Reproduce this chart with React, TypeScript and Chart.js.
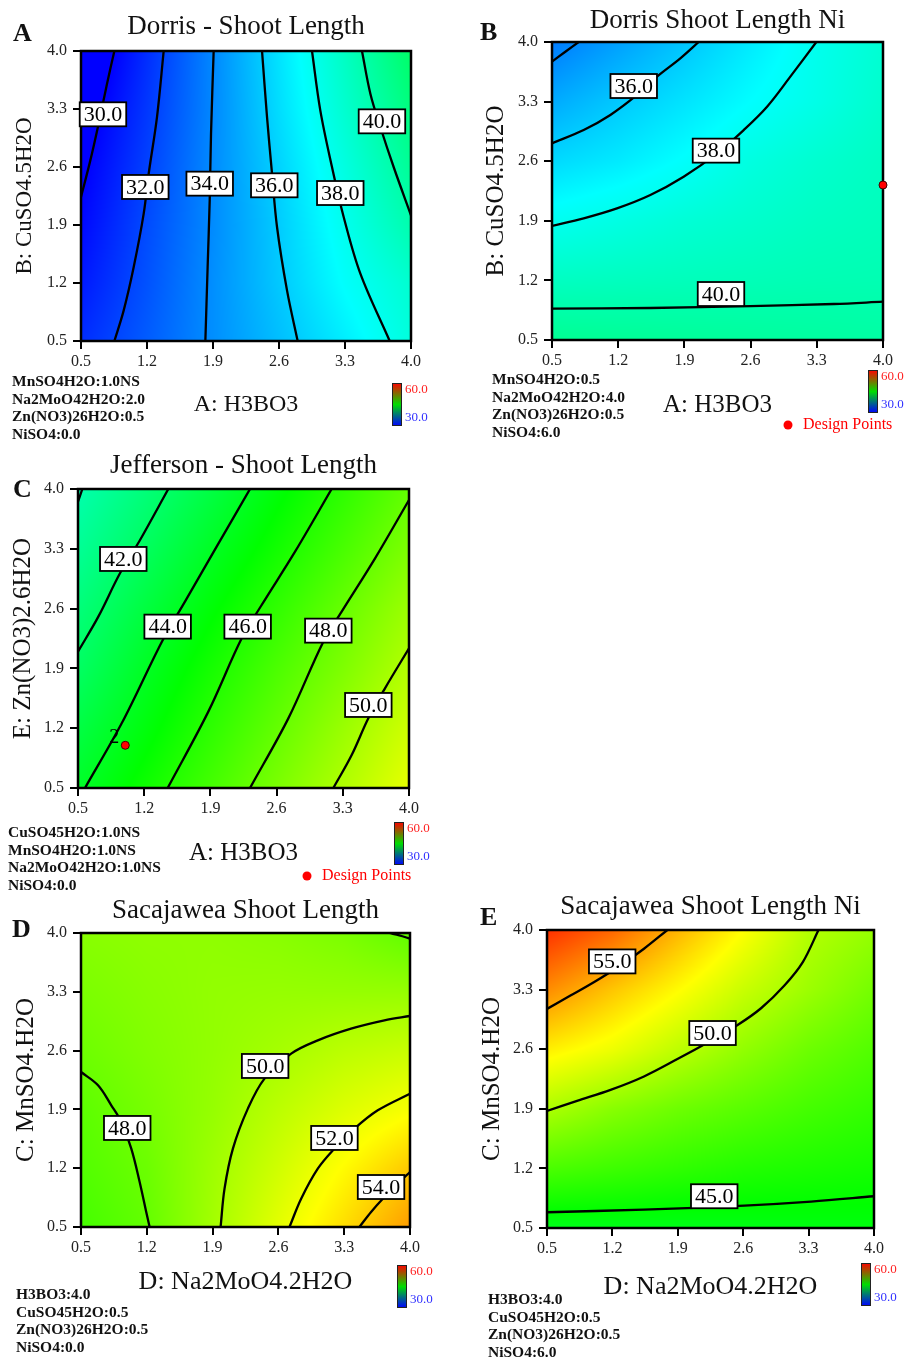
import React, { useEffect, useRef } from "react";
import { Chart, registerables } from "chart.js";
Chart.register(...registerables);

const SERIF = "'Liberation Serif', 'Times New Roman', serif";

// ---------- shared axis / colour data ----------
const AXIS_TICKS = [0.5, 1.2, 1.9, 2.6, 3.3, 4.0];
const AXIS_MIN = 0.5;
const AXIS_MAX = 4.0;
const COLOR_MIN = 30;
const COLOR_MAX = 60;
const COLORBAR_LABELS = ["60.0", "30.0"];
const LEGEND_TEXT = "Design Points";

// ---------- Panel A : Dorris - Shoot Length ----------
// rows: y = 0.5 .. 4.0, columns: x = 0.5 .. 4.0
const A_GRID = [
  [31.3, 32.7, 34.2, 35.6, 37.0, 38.5],
  [30.7, 32.4, 34.2, 35.9, 37.6, 38.9],
  [30.2, 32.2, 34.1, 36.0, 38.0, 39.9],
  [29.8, 31.9, 34.1, 36.2, 38.4, 40.6],
  [29.3, 31.6, 34.0, 36.5, 38.9, 41.3],
  [28.6, 31.3, 34.0, 36.7, 39.3, 42.0],
];
const A_C30 = [[0.854, 4.0], [0.776, 3.606], [0.687, 3.123], [0.599, 2.68], [0.5, 2.238]];
const A_C32 = [[1.377, 4.0], [1.306, 3.203], [1.218, 2.52], [1.165, 2.037], [1.059, 1.393], [0.953, 0.87], [0.854, 0.5]];
const A_C34 = [[1.907, 4.0], [1.879, 3.002], [1.865, 2.198], [1.843, 1.393], [1.819, 0.5]];
const A_C36 = [[2.42, 4.0], [2.473, 3.203], [2.526, 2.52], [2.579, 1.876], [2.685, 1.111], [2.798, 0.5]];
const A_C38 = [[2.95, 4.0], [3.038, 3.284], [3.162, 2.6], [3.286, 1.997], [3.463, 1.313], [3.774, 0.5]];
const A_C40 = [[3.48, 4.0], [3.569, 3.485], [3.675, 3.083], [3.816, 2.6], [4.0, 2.017]];
const A_LABELS: [string, number, number][] = [
  ["30.0", 0.733, 3.236], ["32.0", 1.182, 2.359], ["34.0", 1.865, 2.399],
  ["36.0", 2.55, 2.379], ["38.0", 3.25, 2.286], ["40.0", 3.692, 3.151],
];
const A_FACTORS = ["MnSO4H2O:1.0NS", "Na2MoO42H2O:2.0", "Zn(NO3)26H2O:0.5", "NiSO4:0.0"];

// ---------- Panel B : Dorris Shoot Length Ni ----------
const B_GRID = [
  [40.7, 40.6, 40.5, 40.4, 40.3, 40.2],
  [39.3, 39.4, 39.5, 39.6, 39.7, 39.75],
  [37.9, 38.3, 38.7, 39.0, 39.3, 39.5],
  [36.4, 36.9, 37.6, 38.4, 38.9, 39.3],
  [35.0, 35.9, 36.7, 37.5, 38.2, 39.0],
  [33.6, 34.7, 35.8, 36.9, 38.0, 38.8],
];
const B_C34 = [[0.5, 3.769], [0.641, 3.886], [0.782, 4.0]];
const B_C36 = [[0.5, 2.81], [0.835, 2.966], [1.117, 3.143], [1.399, 3.378], [1.61, 3.593], [1.857, 3.808], [2.051, 4.0]];
const B_C38 = [[0.5, 1.839], [0.835, 1.929], [1.187, 2.046], [1.54, 2.203], [1.892, 2.418], [2.245, 2.692], [2.527, 2.966], [2.774, 3.24], [3.02, 3.593], [3.295, 4.0]];
const B_C40 = [[0.5, 0.868], [1.54, 0.876], [2.597, 0.899], [3.479, 0.923], [4.0, 0.95]];
const B_LABELS: [string, number, number][] = [["36.0", 1.364, 3.483], ["38.0", 2.234, 2.724], ["40.0", 2.287, 1.04]];
const B_POINTS = [[4.0, 2.32]];
const B_POINT_TAGS = [""];
const B_FACTORS = ["MnSO4H2O:0.5", "Na2MoO42H2O:4.0", "Zn(NO3)26H2O:0.5", "NiSO4:6.0"];

// ---------- Panel C : Jefferson - Shoot Length ----------
const C_GRID = [
  [43.8, 45.4, 47.0, 48.6, 50.2, 51.8],
  [43.0, 44.6, 46.3, 47.9, 49.5, 51.1],
  [42.1, 43.9, 45.6, 47.2, 48.7, 50.3],
  [41.4, 43.1, 44.8, 46.4, 48.0, 49.6],
  [40.6, 42.2, 43.9, 45.5, 47.1, 48.7],
  [39.9, 41.4, 43.0, 44.7, 46.3, 47.9],
];
const C_C40 = [[0.5, 3.852], [0.546, 4.0]];
const C_C42 = [[0.5, 2.096], [0.715, 2.506], [0.944, 3.013], [1.156, 3.403], [1.455, 4.0]];
const C_C44 = [[0.574, 0.5], [0.962, 1.257], [1.402, 2.244], [1.631, 2.681], [1.966, 3.325], [2.319, 4.0]];
const C_C46 = [[1.448, 0.5], [1.878, 1.394], [2.231, 2.252], [2.442, 2.642], [2.795, 3.266], [3.182, 4.0]];
const C_C48 = [[2.319, 0.5], [2.724, 1.315], [3.094, 2.213], [3.288, 2.564], [3.641, 3.188], [4.0, 3.871]];
const C_C50 = [[3.2, 0.5], [3.394, 0.886], [3.57, 1.316], [3.746, 1.667], [4.0, 2.135]];
const C_LABELS: [string, number, number][] = [
  ["42.0", 0.979, 3.181], ["44.0", 1.448, 2.389], ["46.0", 2.294, 2.389],
  ["48.0", 3.147, 2.342], ["50.0", 3.57, 1.472],
];
const C_POINTS = [[1.0, 1.0]];
const C_POINT_TAGS = ["2"];
const C_FACTORS = ["CuSO45H2O:1.0NS", "MnSO4H2O:1.0NS", "Na2MoO42H2O:1.0NS", "NiSO4:0.0"];

// ---------- Panel D : Sacajawea Shoot Length ----------
const D_GRID = [
  [47.0, 47.9, 49.8, 51.7, 53.5, 55.4],
  [47.4, 48.15, 49.65, 51.1, 52.6, 54.1],
  [47.7, 48.5, 49.4, 50.5, 51.5, 52.3],
  [48.2, 48.8, 49.3, 49.85, 50.5, 50.9],
  [48.6, 49.0, 49.3, 49.4, 49.4, 49.4],
  [49.0, 49.2, 49.2, 49.0, 48.6, 47.8],
];
const D_C48_CORNER = [[3.781, 4.0], [3.887, 3.972], [4.0, 3.933]];
const D_C48 = [[0.5, 2.345], [0.681, 2.187], [0.822, 1.949], [0.929, 1.75], [1.035, 1.433], [1.124, 1.036], [1.194, 0.679], [1.23, 0.5]];
const D_C50 = [[1.985, 0.5], [2.027, 0.957], [2.116, 1.433], [2.275, 1.909], [2.452, 2.266], [2.736, 2.564], [3.019, 2.722], [3.373, 2.861], [3.728, 2.96], [4.0, 3.012]];
const D_C52 = [[2.718, 0.5], [2.842, 0.837], [3.019, 1.195], [3.196, 1.433], [3.409, 1.671], [3.657, 1.889], [4.0, 2.087]];
const D_C54 = [[3.462, 0.5], [3.586, 0.679], [3.728, 0.857], [3.869, 1.016], [4.0, 1.155]];
const D_LABELS: [string, number, number][] = [
  ["48.0", 0.992, 1.679], ["50.0", 2.459, 2.417], ["52.0", 3.196, 1.56], ["54.0", 3.692, 0.976],
];
const D_FACTORS = ["H3BO3:4.0", "CuSO45H2O:0.5", "Zn(NO3)26H2O:0.5", "NiSO4:0.0"];

// ---------- Panel E : Sacajawea Shoot Length Ni ----------
const E_GRID = [
  [44.2, 44.3, 44.3, 44.4, 44.5, 44.6],
  [47.2, 46.8, 46.4, 46.0, 45.8, 45.6],
  [50.1, 49.0, 48.2, 47.6, 47.0, 46.5],
  [53.0, 52.0, 50.6, 49.3, 48.2, 47.4],
  [55.9, 54.2, 52.6, 50.9, 49.6, 48.4],
  [58.6, 57.0, 54.7, 52.5, 50.3, 49.4],
];
const E_C55 = [[0.5, 3.073], [0.751, 3.23], [1.001, 3.387], [1.287, 3.584], [1.538, 3.78], [1.788, 4.0]];
const E_C50 = [[0.5, 1.875], [0.822, 1.993], [1.18, 2.122], [1.538, 2.28], [1.896, 2.484], [2.254, 2.7], [2.54, 2.884], [2.791, 3.081], [3.041, 3.348], [3.238, 3.623], [3.406, 4.0]];
const E_C45 = [[0.5, 0.685], [1.538, 0.716], [2.612, 0.763], [3.327, 0.81], [4.0, 0.873]];
const E_LABELS: [string, number, number][] = [["55.0", 1.198, 3.631], ["50.0", 2.272, 2.79], ["45.0", 2.29, 0.873]];
const E_FACTORS = ["H3BO3:4.0", "CuSO45H2O:0.5", "Zn(NO3)26H2O:0.5", "NiSO4:6.0"];

// ---------- colour map (blue -> cyan -> green -> yellow -> red) ----------
const CMAP = [
  [0, 0, 255], [0, 255, 255], [0, 255, 0], [255, 255, 0], [255, 0, 0],
];
function colorFor(v: number): number[] {
  let t = (v - COLOR_MIN) / (COLOR_MAX - COLOR_MIN);
  t = Math.max(0, Math.min(1, t));
  const s = t * (CMAP.length - 1);
  const k = Math.min(CMAP.length - 2, Math.floor(s));
  const f = s - k;
  const a = CMAP[k], b = CMAP[k + 1];
  return [a[0] + (b[0] - a[0]) * f, a[1] + (b[1] - a[1]) * f, a[2] + (b[2] - a[2]) * f];
}
function gridValue(grid: number[][], x: number, y: number): number {
  const g = AXIS_TICKS;
  const n = g.length;
  let i = 0;
  while (i < n - 2 && x > g[i + 1]) i++;
  let j = 0;
  while (j < n - 2 && y > g[j + 1]) j++;
  const tx = Math.max(0, Math.min(1, (x - g[i]) / (g[i + 1] - g[i])));
  const ty = Math.max(0, Math.min(1, (y - g[j]) / (g[j + 1] - g[j])));
  const v0 = grid[j][i] * (1 - tx) + grid[j][i + 1] * tx;
  const v1 = grid[j + 1][i] * (1 - tx) + grid[j + 1][i + 1] * tx;
  return v0 * (1 - ty) + v1 * ty;
}

type Panel = {
  letter: string; title: string; xTitle: string; yTitle: string;
  factors: string[]; grid: number[][]; contours: number[][][];
  labels: [string, number, number][]; points: number[][]; pointTags: string[];
  legend: null | { x: number; y: number };
  box: { cx: number; cy: number; cw: number; ch: number };
  plot: { L: number; T: number; R: number; B: number };
  titleY: number; letterX: number; letterY: number;
  xTitleY: number; xTitleFs: number; yTitleX: number; yTitleFs: number;
  factorX: number; factorY: number;
  cbar: { x: number; y: number; w: number; h: number };
};

const PANELS: Panel[] = [
  {
    letter: "A", title: "Dorris - Shoot Length", xTitle: "A: H3BO3", yTitle: "B: CuSO4.5H2O",
    factors: A_FACTORS, grid: A_GRID, contours: [A_C30, A_C32, A_C34, A_C36, A_C38, A_C40],
    labels: A_LABELS, points: [], pointTags: [], legend: null,
    box: { cx: 0, cy: 0, cw: 453, ch: 448 }, plot: { L: 81, T: 51, R: 411, B: 341 },
    titleY: 27, letterX: 13, letterY: 34, xTitleY: 405, xTitleFs: 24, yTitleX: 25, yTitleFs: 23,
    factorX: 12, factorY: 382, cbar: { x: 392, y: 383, w: 10, h: 43 },
  },
  {
    letter: "B", title: "Dorris Shoot Length Ni", xTitle: "A: H3BO3", yTitle: "B: CuSO4.5H2O",
    factors: B_FACTORS, grid: B_GRID, contours: [B_C34, B_C36, B_C38, B_C40],
    labels: B_LABELS, points: B_POINTS, pointTags: B_POINT_TAGS, legend: { x: 788, y: 425 },
    box: { cx: 453, cy: 0, cw: 453, ch: 448 }, plot: { L: 552, T: 42, R: 883, B: 340 },
    titleY: 21, letterX: 480, letterY: 33, xTitleY: 405, xTitleFs: 25, yTitleX: 496, yTitleFs: 25,
    factorX: 492, factorY: 380, cbar: { x: 868, y: 370, w: 10, h: 43 },
  },
  {
    letter: "C", title: "Jefferson - Shoot Length", xTitle: "A: H3BO3", yTitle: "E: Zn(NO3)2.6H2O",
    factors: C_FACTORS, grid: C_GRID, contours: [C_C40, C_C42, C_C44, C_C46, C_C48, C_C50],
    labels: C_LABELS, points: C_POINTS, pointTags: C_POINT_TAGS, legend: { x: 307, y: 876 },
    box: { cx: 0, cy: 448, cw: 453, ch: 445 }, plot: { L: 78, T: 489, R: 409, B: 788 },
    titleY: 466, letterX: 13, letterY: 490, xTitleY: 853, xTitleFs: 25, yTitleX: 23, yTitleFs: 25,
    factorX: 8, factorY: 833, cbar: { x: 394, y: 822, w: 10, h: 43 },
  },
  {
    letter: "D", title: "Sacajawea Shoot Length", xTitle: "D: Na2MoO4.2H2O", yTitle: "C: MnSO4.H2O",
    factors: D_FACTORS, grid: D_GRID, contours: [D_C48_CORNER, D_C48, D_C50, D_C52, D_C54],
    labels: D_LABELS, points: [], pointTags: [], legend: null,
    box: { cx: 0, cy: 893, cw: 453, ch: 466 }, plot: { L: 81, T: 933, R: 410, B: 1227 },
    titleY: 911, letterX: 12, letterY: 930, xTitleY: 1282, xTitleFs: 26, yTitleX: 26, yTitleFs: 25,
    factorX: 16, factorY: 1295, cbar: { x: 397, y: 1265, w: 10, h: 43 },
  },
  {
    letter: "E", title: "Sacajawea Shoot Length Ni", xTitle: "D: Na2MoO4.2H2O", yTitle: "C: MnSO4.H2O",
    factors: E_FACTORS, grid: E_GRID, contours: [E_C55, E_C50, E_C45],
    labels: E_LABELS, points: [], pointTags: [], legend: null,
    box: { cx: 453, cy: 893, cw: 453, ch: 466 }, plot: { L: 547, T: 930, R: 874, B: 1228 },
    titleY: 907, letterX: 480, letterY: 918, xTitleY: 1287, xTitleFs: 26, yTitleX: 492, yTitleFs: 25,
    factorX: 488, factorY: 1300, cbar: { x: 861, y: 1263, w: 10, h: 43 },
  },
];

function PanelChart({ p }: { p: Panel }) {
  const ref = useRef<HTMLCanvasElement>(null);
  useEffect(() => {
    const canvas = ref.current;
    if (!canvas) return;
    const { cx, cy, cw, ch } = p.box;
    const { L, T, R, B } = p.plot;
    const yScaleLeft = p.yTitleX - 0.6 * p.yTitleFs;
    const yW = L - yScaleLeft;
    const xScaleBottom = p.xTitleY + 0.6 * p.xTitleFs;
    const xH = xScaleBottom - B;

    const datasets: any[] = [];
    if (p.points.length) {
      datasets.push({
        data: p.points.map(([x, y]) => ({ x, y })),
        pointRadius: 4, pointBackgroundColor: "#ff0000", pointBorderColor: "#400000",
        pointBorderWidth: 1, showLine: false, clip: false,
      });
    }
    p.contours.forEach((c) => {
      datasets.push({
        data: c.map(([x, y]) => ({ x, y })),
        showLine: true, pointRadius: 0, borderColor: "#000", borderWidth: 2.3,
        tension: 0.35, fill: false,
      });
    });

    const decor = {
      id: "decor",
      beforeDatasetsDraw(chart: any) {
        const { ctx, chartArea: a, scales } = chart;
        const w = Math.round(a.right - a.left);
        const h = Math.round(a.bottom - a.top);
        const off = document.createElement("canvas");
        off.width = w; off.height = h;
        const octx = off.getContext("2d")!;
        const img = octx.createImageData(w, h);
        const xs: number[] = [];
        for (let px = 0; px < w; px++) xs.push(scales.x.getValueForPixel(a.left + px + 0.5));
        for (let py = 0; py < h; py++) {
          const yv = scales.y.getValueForPixel(a.top + py + 0.5);
          for (let px = 0; px < w; px++) {
            const c = colorFor(gridValue(p.grid, xs[px], yv));
            const k = (py * w + px) * 4;
            img.data[k] = c[0]; img.data[k + 1] = c[1]; img.data[k + 2] = c[2]; img.data[k + 3] = 255;
          }
        }
        octx.putImageData(img, 0, 0);
        ctx.drawImage(off, a.left, a.top, a.right - a.left, a.bottom - a.top);
        ctx.save();
        ctx.strokeStyle = "#000"; ctx.lineWidth = 2.5;
        ctx.strokeRect(a.left, a.top, a.right - a.left, a.bottom - a.top);
        ctx.restore();
      },
      afterDatasetsDraw(chart: any) {
        const { ctx, scales } = chart;
        ctx.save();
        ctx.font = `22px ${SERIF}`;
        ctx.textAlign = "center"; ctx.textBaseline = "middle";
        p.labels.forEach(([txt, xv, yv]) => {
          const px = scales.x.getPixelForValue(xv);
          const py = scales.y.getPixelForValue(yv);
          const tw = ctx.measureText(txt).width;
          const bw = tw + 8, bh = 24;
          ctx.fillStyle = "#fff";
          ctx.fillRect(px - bw / 2, py - bh / 2, bw, bh);
          ctx.strokeStyle = "#000"; ctx.lineWidth = 1.8;
          ctx.strokeRect(px - bw / 2, py - bh / 2, bw, bh);
          ctx.fillStyle = "#000";
          ctx.fillText(txt, px, py + 1);
        });
        ctx.font = `20px ${SERIF}`;
        p.points.forEach(([xv, yv], i) => {
          const tag = p.pointTags[i];
          if (!tag) return;
          const px = scales.x.getPixelForValue(xv);
          const py = scales.y.getPixelForValue(yv);
          ctx.fillStyle = "#000";
          ctx.fillText(tag, px - 11, py - 8);
        });
        ctx.restore();
      },
      afterDraw(chart: any) {
        const { ctx } = chart;
        ctx.save();
        ctx.translate(-cx, -cy);
        ctx.fillStyle = "#111";
        ctx.textBaseline = "middle";
        // title
        ctx.font = `27px ${SERIF}`;
        ctx.textAlign = "center";
        ctx.fillText(p.title, (L + R) / 2, p.titleY);
        // letter
        ctx.font = `bold 26px ${SERIF}`;
        ctx.textAlign = "left";
        ctx.fillText(p.letter, p.letterX, p.letterY);
        // factors
        ctx.font = `bold 15.5px ${SERIF}`;
        p.factors.forEach((f, i) => ctx.fillText(f, p.factorX, p.factorY + i * 17.6));
        // colour bar
        const cb = p.cbar;
        const grad = ctx.createLinearGradient(0, cb.y, 0, cb.y + cb.h);
        grad.addColorStop(0, "#ff0000");
        grad.addColorStop(0.5, "#00dd00");
        grad.addColorStop(1, "#0000ff");
        ctx.fillStyle = grad;
        ctx.fillRect(cb.x, cb.y, cb.w, cb.h);
        ctx.strokeStyle = "#222"; ctx.lineWidth = 1;
        ctx.strokeRect(cb.x + 0.5, cb.y + 0.5, cb.w - 1, cb.h - 1);
        ctx.font = `13px ${SERIF}`;
        ctx.fillStyle = "#ff2020";
        ctx.fillText(COLORBAR_LABELS[0], cb.x + cb.w + 3, cb.y + 6.5);
        ctx.fillStyle = "#3030ff";
        ctx.fillText(COLORBAR_LABELS[1], cb.x + cb.w + 3, cb.y + cb.h - 8);
        // legend
        if (p.legend) {
          ctx.beginPath();
          ctx.arc(p.legend.x, p.legend.y, 4.5, 0, Math.PI * 2);
          ctx.fillStyle = "#ff0000";
          ctx.fill();
          ctx.font = `16px ${SERIF}`;
          ctx.fillStyle = "#ff0000";
          ctx.fillText(LEGEND_TEXT, p.legend.x + 15, p.legend.y);
        }
        ctx.restore();
      },
    };

    const tickFont = { family: SERIF, size: 16 };
    const setTicks = (s: any) => { s.ticks = AXIS_TICKS.map((v) => ({ value: v })); };
    const chart = new Chart(canvas, {
      type: "scatter",
      data: { datasets },
      options: {
        animation: false,
        responsive: false,
        maintainAspectRatio: false,
        devicePixelRatio: 1,
        events: [],
        layout: {
          padding: { left: yScaleLeft - cx, top: T - cy, right: cx + cw - R, bottom: cy + ch - xScaleBottom },
        },
        plugins: { legend: { display: false }, tooltip: { enabled: false }, title: { display: false } },
        scales: {
          x: {
            type: "linear", min: AXIS_MIN, max: AXIS_MAX,
            afterBuildTicks: setTicks,
            afterFit: (s: any) => { s.height = xH; },
            ticks: { callback: (v: any) => Number(v).toFixed(1), font: tickFont, color: "#222", padding: 3, maxRotation: 0, autoSkip: false },
            grid: { display: true, drawOnChartArea: false, drawTicks: true, tickLength: 8, color: "#000", lineWidth: 2 },
            border: { display: false },
            title: { display: true, text: p.xTitle, font: { family: SERIF, size: p.xTitleFs }, color: "#111", padding: 0 },
          },
          y: {
            type: "linear", min: AXIS_MIN, max: AXIS_MAX,
            afterBuildTicks: setTicks,
            afterFit: (s: any) => { s.width = yW; },
            ticks: { callback: (v: any) => Number(v).toFixed(1), font: tickFont, color: "#222", padding: 6, autoSkip: false },
            grid: { display: true, drawOnChartArea: false, drawTicks: true, tickLength: 8, color: "#000", lineWidth: 2 },
            border: { display: false },
            title: { display: true, text: p.yTitle, font: { family: SERIF, size: p.yTitleFs }, color: "#111", padding: 0 },
          },
        },
      } as any,
      plugins: [decor],
    });
    return () => chart.destroy();
  }, [p]);
  return (
    <canvas
      ref={ref}
      width={p.box.cw}
      height={p.box.ch}
      style={{ position: "absolute", left: p.box.cx, top: p.box.cy, width: p.box.cw, height: p.box.ch }}
    />
  );
}

export default function App() {
  return (
    <div style={{ position: "absolute", left: 0, top: 0, width: 906, height: 1359, background: "#fff", overflow: "hidden" }}>
      {PANELS.map((p) => (
        <PanelChart key={p.letter} p={p} />
      ))}
    </div>
  );
}
